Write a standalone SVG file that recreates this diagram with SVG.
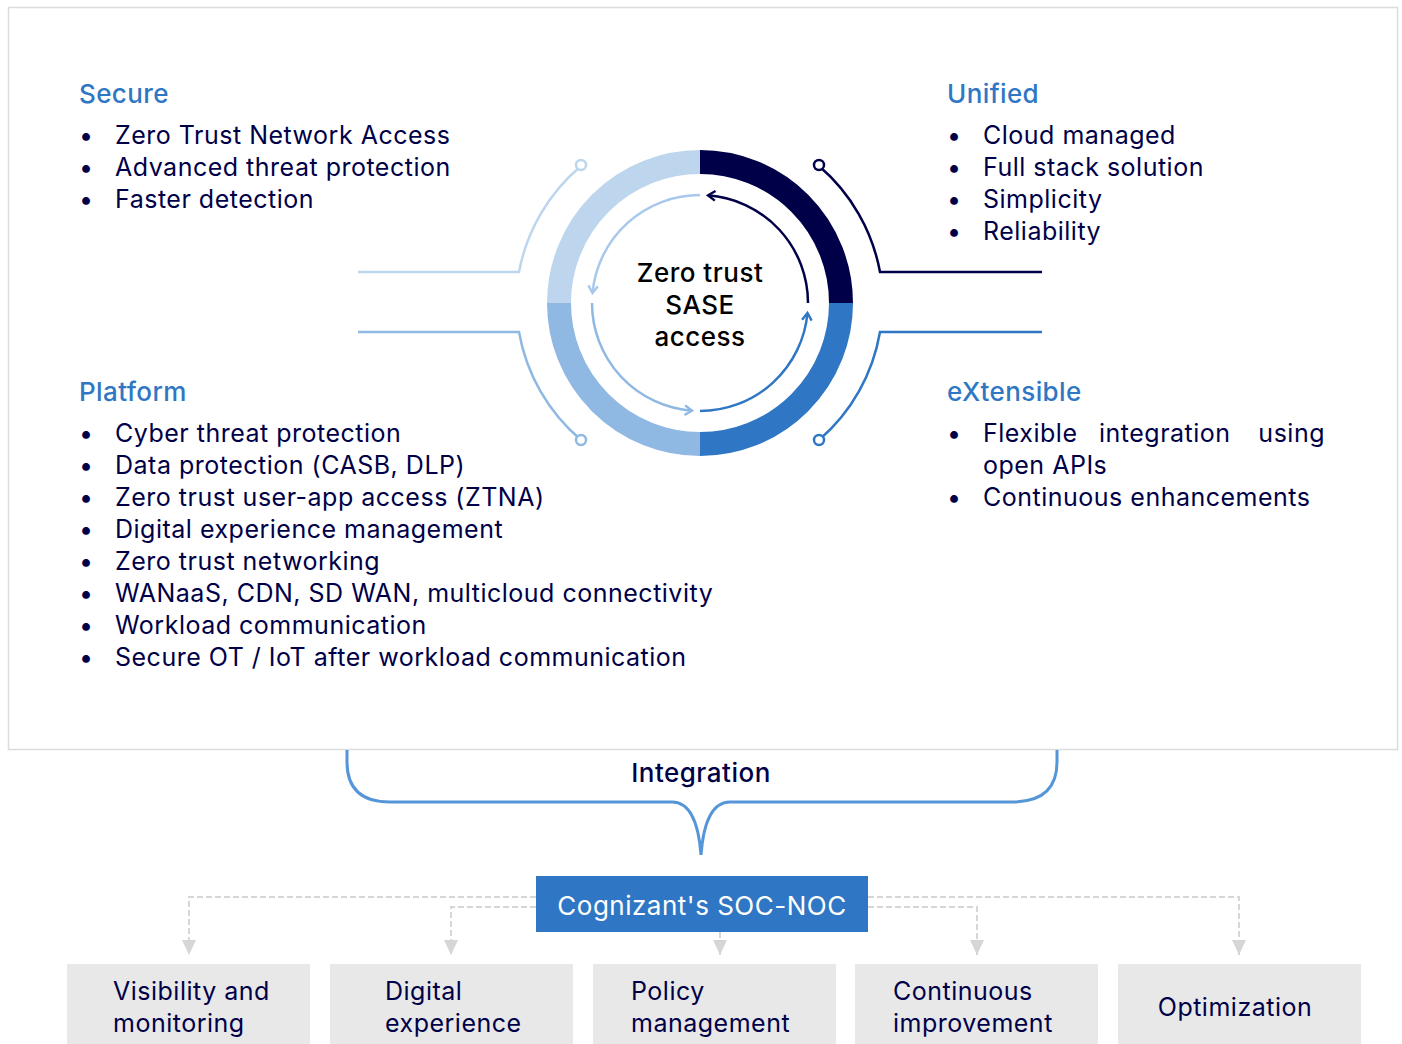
<svg xmlns="http://www.w3.org/2000/svg" width="1402" height="1044" viewBox="0 0 1402 1044">
<style>
.t{font-family:Inter,"Noto Sans","Liberation Sans",sans-serif;font-size:25px;letter-spacing:0.5px;fill:#000048}
.h{font-family:Inter,"Noto Sans","Liberation Sans",sans-serif;font-size:26px;letter-spacing:0.4px;fill:#2F77C4;font-weight:500}
.c{font-family:Inter,"Noto Sans","Liberation Sans",sans-serif;font-size:26px;letter-spacing:0.5px;fill:#000;font-weight:500;text-anchor:middle}
.dash{fill:none;stroke:#d6d6d6;stroke-width:2;stroke-dasharray:6 3}
.box{fill:#e8e8e8}
.dot{fill:#fff;stroke-width:2.5}
</style>
<defs>
<marker id="aL" viewBox="0 0 10 10" refX="7" refY="5" markerWidth="12" markerHeight="12" markerUnits="userSpaceOnUse" orient="auto"><path d="M1,1 L7,5 L1,9" fill="none" stroke="#a9c9ec" stroke-width="2"/></marker>
<marker id="aM" viewBox="0 0 10 10" refX="7" refY="5" markerWidth="12" markerHeight="12" markerUnits="userSpaceOnUse" orient="auto"><path d="M1,1 L7,5 L1,9" fill="none" stroke="#8FB8E3" stroke-width="2"/></marker>
<marker id="aB" viewBox="0 0 10 10" refX="7" refY="5" markerWidth="12" markerHeight="12" markerUnits="userSpaceOnUse" orient="auto"><path d="M1,1 L7,5 L1,9" fill="none" stroke="#2F77C4" stroke-width="2"/></marker>
<marker id="aN" viewBox="0 0 10 10" refX="7" refY="5" markerWidth="12" markerHeight="12" markerUnits="userSpaceOnUse" orient="auto"><path d="M1,1 L7,5 L1,9" fill="none" stroke="#000048" stroke-width="2"/></marker>
<marker id="tri" viewBox="0 0 14 15" refX="7" refY="15" markerWidth="14" markerHeight="15" markerUnits="userSpaceOnUse" orient="0"><path d="M0,0 L14,0 L7,15 Z" fill="#d6d6d6"/></marker>
</defs>
<rect x="0" y="0" width="1402" height="1044" fill="#fff"/>
<rect x="8.5" y="7.5" width="1389" height="742" fill="#fff" stroke="#dcdcdc" stroke-width="1.5"/>

<g id="connectors">
  <path d="M358,272 L519,272 A183,183 0 0 1 581,166" fill="none" stroke="#BDD6EE" stroke-width="2.5"/>
  <path d="M358,332 L519,332 A183,183 0 0 0 581,440" fill="none" stroke="#8FB8E3" stroke-width="2.5"/>
  <path d="M1042,272 L880,272 A183,183 0 0 0 819,166" fill="none" stroke="#000048" stroke-width="2.5"/>
  <path d="M1042,332 L880,332 A183,183 0 0 1 819,440" fill="none" stroke="#2F77C4" stroke-width="2.5"/>
  <circle class="dot" cx="581" cy="165" r="5" stroke="#BDD6EE"/>
  <circle class="dot" cx="581" cy="440" r="5" stroke="#8FB8E3"/>
  <circle class="dot" cx="819" cy="165" r="5" stroke="#000048"/>
  <circle class="dot" cx="819" cy="440" r="5" stroke="#2F77C4"/>
  <path d="M347,750 L347,762 Q347,802 390,802 L672,802 Q697,802 701,855 Q705,802 730,802 L1012,802 Q1057,802 1057,762 L1057,750" fill="none" stroke="#5596d9" stroke-width="3"/>
  <path class="dash" d="M536,897 L189,897 L189,955" marker-end="url(#tri)"/>
  <path class="dash" d="M536,907 L451,907 L451,955" marker-end="url(#tri)"/>
  <path class="dash" d="M720,932 L720,955" marker-end="url(#tri)"/>
  <path class="dash" d="M868,907 L977,907 L977,955" marker-end="url(#tri)"/>
  <path class="dash" d="M868,897 L1239,897 L1239,955" marker-end="url(#tri)"/>
</g>

<g id="ring">
  <path d="M559,303 A141,141 0 0 1 700,162" fill="none" stroke="#BDD6EE" stroke-width="24"/>
  <path d="M700,162 A141,141 0 0 1 841,303" fill="none" stroke="#000048" stroke-width="24"/>
  <path d="M841,303 A141,141 0 0 1 700,444" fill="none" stroke="#2F77C4" stroke-width="24"/>
  <path d="M700,444 A141,141 0 0 1 559,303" fill="none" stroke="#8FB8E3" stroke-width="24"/>
  <path d="M700,195 A108,108 0 0 0 592.5,293" fill="none" stroke="#a9c9ec" stroke-width="2.5" marker-end="url(#aL)"/>
  <path d="M592,303 A108,108 0 0 0 692,410.7" fill="none" stroke="#8FB8E3" stroke-width="2.5" marker-end="url(#aM)"/>
  <path d="M700,411 A108,108 0 0 0 807.5,313" fill="none" stroke="#2F77C4" stroke-width="2.5" marker-end="url(#aB)"/>
  <path d="M808,303 A108,108 0 0 0 708,195.3" fill="none" stroke="#000048" stroke-width="2.5" marker-end="url(#aN)"/>
  <text class="c" x="700" y="282">Zero trust</text>
  <text class="c" x="700" y="314">SASE</text>
  <text class="c" x="700" y="346">access</text>
</g>

<g id="secure">
  <text class="h" x="79" y="103">Secure</text>
  <text class="t" x="79" y="144">•</text><text class="t" x="115" y="144">Zero Trust Network Access</text>
  <text class="t" x="79" y="176">•</text><text class="t" x="115" y="176">Advanced threat protection</text>
  <text class="t" x="79" y="208">•</text><text class="t" x="115" y="208">Faster detection</text>
</g>

<g id="unified">
  <text class="h" x="947" y="103">Unified</text>
  <text class="t" x="947" y="144">•</text><text class="t" x="983" y="144">Cloud managed</text>
  <text class="t" x="947" y="176">•</text><text class="t" x="983" y="176">Full stack solution</text>
  <text class="t" x="947" y="208">•</text><text class="t" x="983" y="208">Simplicity</text>
  <text class="t" x="947" y="240">•</text><text class="t" x="983" y="240">Reliability</text>
</g>

<g id="platform">
  <text class="h" x="79" y="401">Platform</text>
  <text class="t" x="79" y="442">•</text><text class="t" x="115" y="442">Cyber threat protection</text>
  <text class="t" x="79" y="474">•</text><text class="t" x="115" y="474">Data protection (CASB, DLP)</text>
  <text class="t" x="79" y="506">•</text><text class="t" x="115" y="506">Zero trust user-app access (ZTNA)</text>
  <text class="t" x="79" y="538">•</text><text class="t" x="115" y="538">Digital experience management</text>
  <text class="t" x="79" y="570">•</text><text class="t" x="115" y="570">Zero trust networking</text>
  <text class="t" x="79" y="602">•</text><text class="t" x="115" y="602">WANaaS, CDN, SD WAN, multicloud connectivity</text>
  <text class="t" x="79" y="634">•</text><text class="t" x="115" y="634">Workload communication</text>
  <text class="t" x="79" y="666">•</text><text class="t" x="115" y="666">Secure OT / IoT after workload communication</text>
</g>

<g id="extensible">
  <text class="h" x="947" y="401">eXtensible</text>
  <text class="t" x="947" y="442">•</text><text class="t" x="983" y="442">Flexible</text><text class="t" x="1099" y="442">integration</text><text class="t" x="1325" y="442" text-anchor="end">using</text>
  <text class="t" x="983" y="474">open APIs</text>
  <text class="t" x="947" y="506">•</text><text class="t" x="983" y="506">Continuous enhancements</text>
</g>

<g id="integration">
  <text class="c" x="701" y="782" style="fill:#000048">Integration</text>
</g>

<g id="socnoc">
  <rect x="536" y="876" width="332" height="56" fill="#2F77C4"/>
  <text class="c" x="702" y="915" style="fill:#fff;font-weight:400">Cognizant's SOC-NOC</text>
</g>

<g id="visibility"><rect class="box" x="67" y="964" width="243" height="80"/><text class="t" x="113" y="1000">Visibility and</text><text class="t" x="113" y="1032">monitoring</text></g>
<g id="digital"><rect class="box" x="330" y="964" width="243" height="80"/><text class="t" x="385" y="1000">Digital</text><text class="t" x="385" y="1032">experience</text></g>
<g id="policy"><rect class="box" x="593" y="964" width="243" height="80"/><text class="t" x="631" y="1000">Policy</text><text class="t" x="631" y="1032">management</text></g>
<g id="continuous"><rect class="box" x="855" y="964" width="243" height="80"/><text class="t" x="893" y="1000">Continuous</text><text class="t" x="893" y="1032">improvement</text></g>
<g id="optimization"><rect class="box" x="1118" y="964" width="243" height="80"/><text class="t" x="1235" y="1016" text-anchor="middle">Optimization</text></g>
</svg>
